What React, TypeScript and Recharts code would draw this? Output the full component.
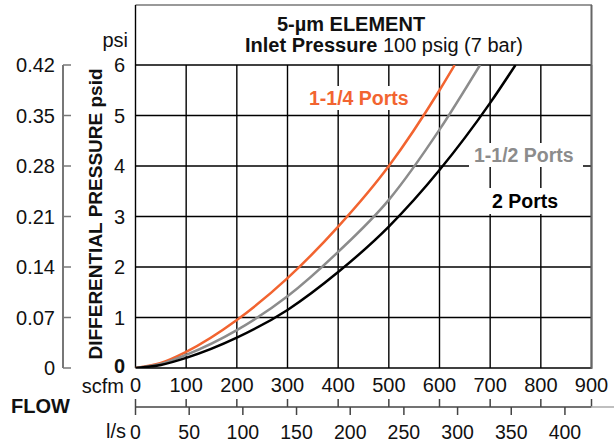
import React from "react"
import { LineChart, Line, XAxis, YAxis, CartesianGrid } from "recharts"

// flow (scfm) vs differential pressure (psid)
const port114Flow = [0, 50, 100, 200, 300, 400, 500, 600, 630]
const port114Dp = [0, 0.1, 0.32, 0.95, 1.78, 2.8, 4.0, 5.5, 6.0]
const port112Flow = [0, 50, 100, 200, 300, 400, 500, 600, 680]
const port112Dp = [0, 0.08, 0.26, 0.75, 1.42, 2.3, 3.33, 4.72, 6.0]
const port2Flow = [0, 50, 100, 200, 300, 400, 500, 600, 700, 750]
const port2Dp = [0, 0.06, 0.2, 0.6, 1.15, 1.9, 2.8, 3.92, 5.25, 6.0]

const scfmTicks = [0, 100, 200, 300, 400, 500, 600, 700, 800, 900]
const lsTicks = [0, 50, 100, 150, 200, 250, 300, 350, 400]
const psiTicks = [0, 1, 2, 3, 4, 5, 6]
const barTicks = [0, 0.07, 0.14, 0.21, 0.28, 0.35, 0.42]

const SCFM_PER_LS = 2.11888

const toRows = (flow: number[], dp: number[]) => flow.map((f, i) => ({ flow: f, dp: dp[i] }))

const series = [
  { name: "1-1/4 Ports", data: toRows(port114Flow, port114Dp), color: "#f26430" },
  { name: "1-1/2 Ports", data: toRows(port112Flow, port112Dp), color: "#8c8c8c" },
  { name: "2 Ports", data: toRows(port2Flow, port2Dp), color: "#000000" },
]

const FONT = "'Liberation Sans', Arial, Helvetica, sans-serif"

const ScfmTick = ({ x, y, payload }: any) => (
  <g>
    <text x={x} y={y} dy={24} textAnchor="middle" fontSize={20} fill="#111" fontFamily={FONT}>
      {payload.value}
    </text>
    <line x1={x} x2={x} y1={y + 31} y2={y + 39} stroke="#444" strokeWidth={1.5} />
  </g>
)

// l/s scale shares the scfm axis range; ticks are l/s values converted to scfm
const LsTick = ({ x, y, payload }: any) => (
  <text x={x} y={y} dy={12} textAnchor="middle" fontSize={19.5} fill="#111" fontFamily={FONT}>
    {Math.round(payload.value / SCFM_PER_LS)}
  </text>
)

const PsiTick = ({ x, y, payload }: any) => (
  <text
    x={x}
    y={y}
    dy={payload.value === 0 ? 5 : 7}
    textAnchor="end"
    fontSize={20}
    fontWeight={payload.value === 0 ? "bold" : "normal"}
    fill="#111"
    fontFamily={FONT}
  >
    {payload.value}
  </text>
)

const BarTick = ({ x, y, payload }: any) => (
  <g>
    <text x={x} y={y} dy={7} textAnchor="end" fontSize={20} fill="#111" fontFamily={FONT}>
      {payload.value === 0 ? "0" : payload.value.toFixed(2)}
    </text>
    <line x1={x + 8} x2={x + 16} y1={y} y2={y} stroke="#777" strokeWidth={1.5} />
  </g>
)

export default function App() {
  return (
    <div style={{ position: "absolute", left: 0, top: 0, width: 614, height: 443, background: "#fff", fontFamily: FONT }}>
      <LineChart width={614} height={443} margin={{ top: 65, right: 22.5, bottom: 0, left: 0 }}>
        <CartesianGrid xAxisId="a" yAxisId="a" stroke="#000" strokeWidth={1.4} strokeOpacity={1} />
        {/* secondary axes first, so the main ones sit next to the plot */}
        <XAxis
          xAxisId="b"
          dataKey="flow"
          type="number"
          domain={[0, 900]}
          ticks={lsTicks.map((v) => v * SCFM_PER_LS)}
          interval={0}
          height={36}
          tickSize={8}
          tickMargin={12}
          axisLine={{ stroke: "#444", strokeWidth: 1.5 }}
          tickLine={{ stroke: "#444", strokeWidth: 1.5 }}
          tick={<LsTick />}
          allowDataOverflow
        />
        <XAxis
          xAxisId="a"
          dataKey="flow"
          type="number"
          domain={[0, 900]}
          ticks={scfmTicks}
          interval={0}
          height={39}
          tickSize={0}
          tickMargin={0}
          axisLine={false}
          tickLine={false}
          tick={<ScfmTick />}
          allowDataOverflow
        />
        <YAxis
          yAxisId="b"
          type="number"
          domain={[0, 0.42]}
          ticks={barTicks}
          interval={0}
          width={63}
          tickSize={0}
          tickMargin={8}
          axisLine={{ stroke: "#777", strokeWidth: 2 }}
          tickLine={false}
          tick={<BarTick />}
          allowDataOverflow
        />
        <YAxis
          yAxisId="a"
          type="number"
          domain={[0, 6]}
          ticks={psiTicks}
          interval={0}
          width={72.5}
          tickSize={0}
          tickMargin={10.5}
          axisLine={false}
          tickLine={false}
          tick={<PsiTick />}
          allowDataOverflow
        />
        {series.map((s) => (
          <Line
            key={s.name}
            xAxisId="a"
            yAxisId="a"
            data={s.data}
            dataKey="dp"
            name={s.name}
            type="monotone"
            stroke={s.color}
            strokeWidth={2.5}
            dot={false}
            activeDot={false}
            isAnimationActive={false}
          />
        ))}
      </LineChart>

      {/* frame, titles and labels */}
      <svg
        width={614}
        height={443}
        style={{ position: "absolute", left: 0, top: 0, pointerEvents: "none" }}
        fontFamily={FONT}
      >
        <line x1={135.5} x2={592} y1={5} y2={5} stroke="#777" strokeWidth={1.5} />
        <line x1={591.5} x2={591.5} y1={5} y2={369} stroke="#666" strokeWidth={2} />
        <line x1={135.5} x2={135.5} y1={5} y2={65} stroke="#000" strokeWidth={1.4} />
        <line x1={591} x2={614} y1={407} y2={407} stroke="#aaa" strokeWidth={1.5} />

        <text x={351} y={31} textAnchor="middle" fontSize={20} fontWeight="bold" fill="#111">
          5-µm ELEMENT
        </text>
        <text x={384} y={52} textAnchor="middle" fontSize={20} fill="#111">
          <tspan fontWeight="bold">Inlet Pressure</tspan> 100 psig (7 bar)
        </text>

        <text x={128} y={47} textAnchor="end" fontSize={20} fill="#111">psi</text>
        <text
          x={95}
          y={214}
          transform="rotate(-90 95 214)"
          textAnchor="middle"
          dominantBaseline="central"
          fontSize={19}
          fontWeight="bold"
          fill="#111"
        >
          DIFFERENTIAL PRESSURE psid
        </text>
        <text x={124} y={393} textAnchor="end" fontSize={20} fill="#111">scfm</text>
        <text x={11} y={413} fontSize={20} fontWeight="bold" fill="#111">FLOW</text>
        <text x={126} y={438} textAnchor="end" fontSize={20} fill="#111">l/s</text>

        <rect x={303} y={86} width={114} height={24} fill="#fff" />
        <text x={309} y={105} fontSize={19.5} fontWeight="bold" fill="#f26430">1-1/4 Ports</text>
        <rect x={469} y={143} width={114} height={24} fill="#fff" />
        <text x={474} y={162} fontSize={19.5} fontWeight="bold" fill="#8c8c8c">1-1/2 Ports</text>
        <rect x={486} y={188} width={80} height={26} fill="#fff" />
        <text x={492} y={208} fontSize={19.5} fontWeight="bold" fill="#000">2 Ports</text>
      </svg>
    </div>
  )
}
